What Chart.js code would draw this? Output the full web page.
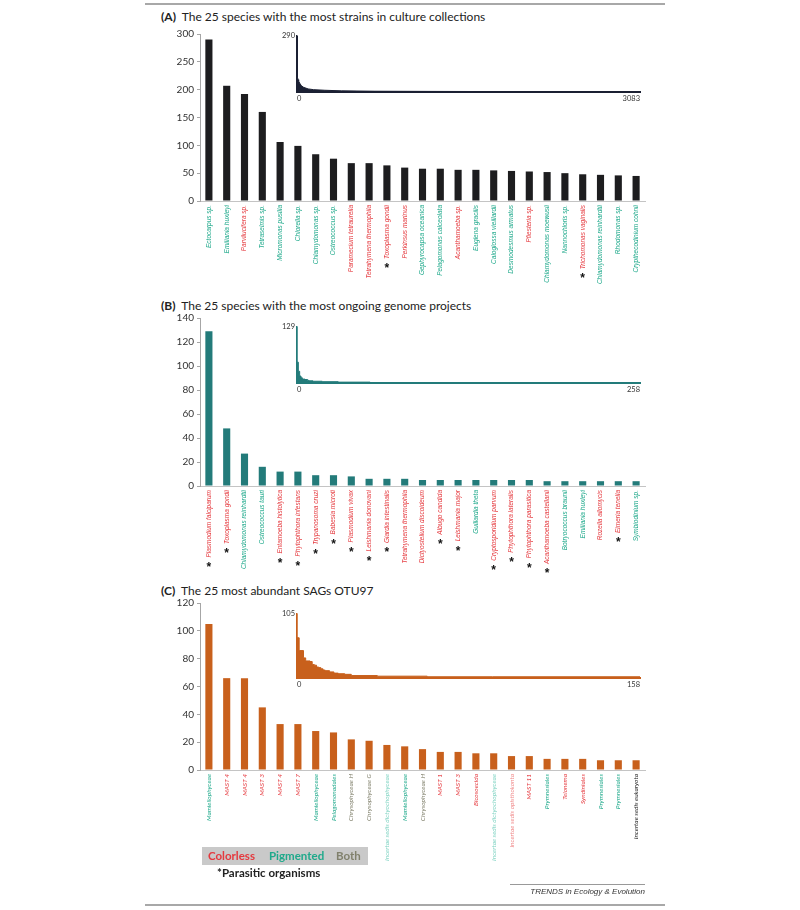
<!DOCTYPE html>
<html>
<head>
<meta charset="utf-8">
<script src="https://cdn.jsdelivr.net/npm/chart.js@4.4.1/dist/chart.umd.min.js"></script>
<style>
  body { margin: 0; background: #fff; }
  #page { position: relative; width: 800px; height: 910px; font-family: Lato, sans-serif; color: #222; }
  #page canvas { position: absolute; }
  .title { position: absolute; left: 161px; font-size: 12px; white-space: nowrap; }
  .title b { font-weight: 700; }
  .rule { position: absolute; background: #a8a8a8; }
  #legend { position: absolute; left: 202px; top: 847px; width: 166px; height: 18px; background: #c9c9c9;
            font-weight: 700; font-size: 11.5px; line-height: 18px; }
  #legend span { position: absolute; top: 0; }
  #para { position: absolute; left: 217px; top: 866px; font-weight: 700; font-size: 11.5px; }
  #trends { position: absolute; right: 155px; top: 887px; font: italic 8px 'Liberation Sans', Arial; color: #333; }
</style>
</head>
<body>
<div id="page">
  <div class="rule" style="left:145px;top:3px;width:520px;height:2px"></div>
  <div class="title" style="top:9px"><b>(A)</b>&nbsp; The 25 species with the most strains in culture collections</div>
  <div class="title" style="top:298px"><b>(B)</b>&nbsp; The 25 species with the most ongoing genome projects</div>
  <div class="title" style="top:583px"><b>(C)</b>&nbsp; The 25 most abundant SAGs OTU97</div>

  <canvas id="mainA" width="500" height="280" style="left:150px;top:24px"></canvas>
  <canvas id="insetA" width="370" height="80" style="left:280px;top:28px"></canvas>
  <canvas id="mainB" width="500" height="290" style="left:150px;top:306px"></canvas>
  <canvas id="insetB" width="370" height="80" style="left:280px;top:319px"></canvas>
  <canvas id="mainC" width="500" height="290" style="left:150px;top:593px"></canvas>
  <canvas id="insetC" width="370" height="85" style="left:280px;top:606px"></canvas>

  <div id="legend">
    <span style="left:6px;color:#e5393e">Colorless</span>
    <span style="left:67px;color:#1fa98b">Pigmented</span>
    <span style="left:134px;color:#80806c">Both</span>
  </div>
  <div id="para">*Parasitic organisms</div>
  <div class="rule" style="left:510px;top:884px;width:135px;height:1px;background:#999"></div>
  <div id="trends">TRENDS in Ecology &amp; Evolution</div>
  <div class="rule" style="left:145px;top:904px;width:520px;height:2px"></div>
</div>

<script>
// ---- panel A: strains in culture collections
const labelsA = ["Ectocarpus sp.", "Emiliania huxleyi", "Parvilucifera sp.", "Tetraselmis sp.", "Micromonas pusilla",
  "Chlorella sp.", "Chlamydomonas sp.", "Ostreococcus sp.", "Paramecium tetraurelia", "Tetrahymena thermophila",
  "Toxoplasma gondii", "Perkinsus marinus", "Gephyrocapsa oceanica", "Pelagomonas calceolata", "Acanthamoeba sp.",
  "Euglena gracilis", "Caloglossa vieillardii", "Desmodesmus armatus", "Pfiesteria sp.", "Chlamydomonas moewusii",
  "Nannochloris sp.", "Trichomonas vaginalis", "Chlamydomonas reinhardtii", "Rhodomonas sp.", "Crypthecodinium cohnii"];
const valuesA = [290, 207, 192, 160, 106, 99, 84, 76, 68, 68, 64, 60, 58, 58, 56, 56, 55, 54, 53, 52, 50, 48, 47, 46, 45];
const kindsA = ["p","p","c","p","p","p","p","p","c","c","c","c","p","p","c","p","p","p","c","p","p","c","p","p","p"];
const starsA = [10, 21];
const insetAx = [0, 1, 2, 3, 4, 5, 6, 7, 10, 15, 25, 40, 60, 100, 150, 250, 400, 700, 1200, 2000, 3083];
const insetAy = [290, 207, 192, 160, 106, 99, 84, 76, 64, 56, 45, 32, 24, 16, 12, 9, 6, 4, 3, 2, 1];

// ---- panel B: ongoing genome projects
const labelsB = ["Plasmodium falciparum", "Toxoplasma gondii", "Chlamydomonas reinhardtii", "Ostreococcus tauri",
  "Entamoeba histolytica", "Phytophthora infestans", "Trypanosoma cruzi", "Babesia microti", "Plasmodium vivax",
  "Leishmania donovani", "Giardia intestinalis", "Tetrahymena thermophila", "Dictyostelium discoideum", "Albugo candida",
  "Leishmania major", "Guillardia theta", "Cryptosporidium parvum", "Phytophthora lateralis", "Phytophthora parasitica",
  "Acanthamoeba castellanii", "Botryococcus braunii", "Emiliania huxleyi", "Rozella allomycis", "Eimeria tenella",
  "Symbiodinium sp."];
const valuesB = [129, 48, 27, 16, 12, 12, 9, 9, 8, 6, 6, 6, 5, 5, 5, 5, 5, 5, 5, 4, 4, 4, 4, 4, 4];
const kindsB = ["c","c","p","p","c","c","c","c","c","c","c","c","c","c","c","p","c","c","c","c","p","p","c","c","p"];
const starsB = [0, 1, 4, 5, 6, 7, 8, 9, 10, 13, 14, 16, 17, 18, 19, 23];
const insetBx = [0, 1, 2, 3, 4, 6, 8, 9, 12, 19, 31, 55, 96, 258];
const insetBy = [129, 48, 27, 16, 12, 9, 8, 6, 5, 4, 3, 2, 1, 1];

// ---- panel C: most abundant SAGs OTU97
const labelsC = ["Mamiellophyceae", "MAST 4", "MAST 4", "MAST 3", "MAST 4", "MAST 7", "Mamiellophyceae",
  "Pelagomonadales", "Chrysophyceae H", "Chrysophyceae G", "Incertae sedis dictyochophyceae", "Mamiellophyceae",
  "Chrysophyceae H", "MAST 1", "MAST 3", "Bicosoecida", "Incertae sedis dictyochophyceae",
  "Incertae sedis opisthokonta", "MAST 11", "Prymnesiales", "Telonema", "Syndiniales", "Prymnesiales",
  "Prymnesiales", "Incertae sedis eukaryota"];
const valuesC = [105, 66, 66, 45, 33, 33, 28, 27, 22, 21, 18, 17, 15, 13, 13, 12, 12, 10, 10, 8, 8, 8, 7, 7, 7];
const kindsC = ["p","c","c","c","c","c","p","p","b","b","pl","p","b","c","c","c","pl","cl","c","p","c","c","p","p","u"];
const insetCx = [0, 1, 3, 4, 6, 7, 8, 9, 10, 11, 12, 13, 15, 17, 19, 22, 25, 37, 60, 90, 158];
const insetCy = [105, 66, 45, 33, 28, 27, 22, 21, 18, 17, 15, 13, 12, 10, 8, 7, 6, 4, 3, 2, 2];

const kindColor = { c: "#e5393e", p: "#1fa98b", b: "#80806c", pl: "#7fd3c2", cl: "#f08a8a", u: "#222222" };
const TICK_PAD = 4;

const starPlugin = {
  id: "stars",
  afterDraw(chart, args, opts) {
    if (!opts.idx || !opts.idx.length) return;
    const sx = chart.scales.x, ctx = chart.ctx;
    ctx.save();
    opts.idx.forEach(i => {
      ctx.font = opts.font;
      const w = ctx.measureText(chart.data.labels[i]).width;
      const x = sx.getPixelForTick(i);
      const y = sx.top + TICK_PAD + w + 8;
      ctx.font = "bold 12px 'Liberation Sans', Arial";
      ctx.fillStyle = "#111";
      ctx.textAlign = "center";
      ctx.textBaseline = "middle";
      ctx.fillText("*", x, y + 2);
    });
    ctx.restore();
  }
};

function mainChart(id, labels, values, kinds, stars, color, yMax, yStep, family, xHeight, padTop) {
  const font = { family: family, size: 6.5, style: "italic" };
  new Chart(document.getElementById(id), {
    type: "bar",
    data: { labels: labels, datasets: [{ data: values, backgroundColor: color, barPercentage: 0.4, categoryPercentage: 1 }] },
    plugins: [starPlugin],
    options: {
      responsive: false, animation: false,
      layout: { padding: { top: padTop, right: 5, left: 0, bottom: 0 } },
      plugins: {
        legend: { display: false }, tooltip: { enabled: false },
        stars: { idx: stars, font: "italic 6.5px " + family }
      },
      scales: {
        x: {
          grid: { display: false, drawTicks: false },
          border: { display: true, color: "#c4c4c4", width: 1 },
          ticks: { autoSkip: false, minRotation: 90, maxRotation: 90, padding: TICK_PAD, font: font,
                   color: c => kindColor[kinds[c.index]] },
          afterFit: s => { s.height = xHeight; }
        },
        y: {
          min: 0, max: yMax,
          grid: { drawOnChartArea: false, drawTicks: true, tickLength: 3, color: "#a6a6a6" },
          border: { display: true, color: "#a6a6a6", width: 1 },
          ticks: { stepSize: yStep, padding: 3, color: "#333", font: { family: "Lato", size: 10 } },
          afterFit: s => { s.width = 50; }
        }
      }
    }
  });
}

function insetChart(id, xs, ys, color, xMax, yMax, stepped, xHeight) {
  new Chart(document.getElementById(id), {
    type: "line",
    data: { datasets: [{ data: xs.map((x, i) => ({ x: x, y: ys[i] })), fill: "origin", stepped: stepped,
                         backgroundColor: color, borderColor: color, borderWidth: 1, pointRadius: 0, tension: 0 }] },
    options: {
      responsive: false, animation: false,
      layout: { padding: { top: 8, right: 10, left: 0, bottom: 0 } },
      plugins: { legend: { display: false }, tooltip: { enabled: false } },
      scales: {
        x: {
          type: "linear", min: 0, max: xMax,
          afterBuildTicks: s => { s.ticks = [{ value: 0 }, { value: xMax }]; },
          grid: { display: false, drawTicks: false },
          border: { display: true, color: color, width: 2 },
          ticks: { maxRotation: 0, padding: 2, align: "inner", color: "#333", font: { family: "Lato", size: 7.5 },
                   callback: v => String(v) },
          afterFit: s => { s.height = xHeight; }
        },
        y: {
          min: 0, max: yMax,
          afterBuildTicks: s => { s.ticks = [{ value: yMax }]; },
          grid: { display: false, drawTicks: false },
          border: { display: true, color: color, width: 1.5 },
          ticks: { padding: 2, color: "#333", font: { family: "Lato", size: 7.5 }, callback: v => String(v) },
          afterFit: s => { s.width = 17; }
        }
      }
    }
  });
}

mainChart("mainA", labelsA, valuesA, kindsA, starsA, "#1d1d1f", 300, 50, "'Liberation Sans', Arial", 103, 10);
mainChart("mainB", labelsB, valuesB, kindsB, starsB, "#237b7a", 140, 20, "'Liberation Sans', Arial", 110, 12);
mainChart("mainC", labelsC, valuesC, kindsC, [], "#c8601c", 120, 20, "Lato", 113, 10);

insetChart("insetA", insetAx, insetAy, "#1b2033", 3083, 290, false, 16);
insetChart("insetB", insetBx, insetBy, "#237b7a", 258, 129, "after", 16);
insetChart("insetC", insetCx, insetCy, "#c8601c", 158, 105, "after", 13);
</script>
</body>
</html>
